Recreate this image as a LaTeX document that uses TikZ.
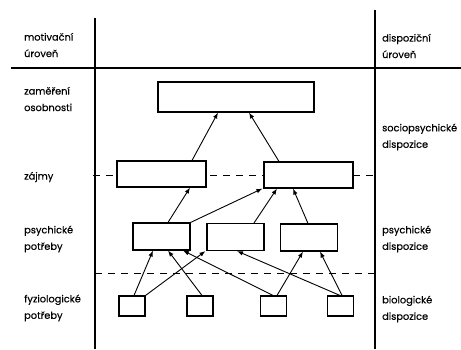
\documentclass[tikz,border=0pt]{standalone}
\usepackage{fontspec}
\setmainfont{Poppins}[FakeBold=0.35]
\usetikzlibrary{arrows.meta}
\tikzset{
  box/.style={draw, fill=white, line width=1.1pt, inner sep=0pt},
  lbl/.style={anchor=west, align=left, inner sep=0pt, font=\fontsize{9.8}{16.5}\selectfont},
  arr/.style={line width=0.9pt, -{Latex[length=6pt,width=4.5pt]}}
}
\begin{document}
\begin{tikzpicture}[x=1pt, y=-1pt]
            \useasboundingbox (0,0) rectangle (461,349);
            % frame
            \draw[line width=1.1pt] (95,18) -- (95,349);
            \draw[line width=1.1pt] (375,10) -- (375,349);
            \draw[line width=1.1pt] (11,68) -- (461,68);
            \draw[line width=1pt, dash pattern=on 7pt off 6pt] (93,175) -- (375,175);
            \draw[line width=1pt, dash pattern=on 7pt off 6pt] (95,273) -- (375,273);
            % labels
            \node[lbl] (mu) at (24,45) {motivační\\úroveň};
            \node[lbl] (zo) at (24,99) {zaměření\\osobnosti};
            \node[lbl] (za) at (24,177) {zájmy};
            \node[lbl] (pp) at (24,239) {psychické\\potřeby};
            \node[lbl] (fp) at (24,308) {fyziologické\\potřeby};
            \node[lbl] (du) at (382,46) {dispoziční\\úroveň};
            \node[lbl] (sd) at (382,137) {sociopsychické\\dispozice};
            \node[lbl] (pd) at (382,239) {psychické\\dispozice};
            \node[lbl] (bd) at (382,309) {biologické\\dispozice};
            % boxes
            \node[box, minimum width=156pt, minimum height=30pt] (T) at (236,97) {};
            \node[box, minimum width=89pt, minimum height=26pt] (Z1) at (161.5,174) {};
            \node[box, minimum width=89pt, minimum height=26pt] (Z2) at (308.5,175) {};
            \node[box, minimum width=57pt, minimum height=27pt] (P1) at (161.5,236.5) {};
            \node[box, minimum width=57pt, minimum height=27pt] (P2) at (235.5,237) {};
            \node[box, minimum width=57pt, minimum height=27pt] (P3) at (309,237.5) {};
            \node[box, minimum width=26pt, minimum height=20pt] (F1) at (132,306) {};
            \node[box, minimum width=26pt, minimum height=20pt] (F2) at (200,306) {};
            \node[box, minimum width=26pt, minimum height=20pt] (F3) at (273.5,306) {};
            \node[box, minimum width=26pt, minimum height=20pt] (F4) at (340.5,306) {};
            % arrows
            \draw[arr] ([xshift=30.5pt]Z1.north) -- ([xshift=-18pt]T.south);
            \draw[arr] ([xshift=-29.5pt]Z2.north) -- ([xshift=13pt]T.south);
            \draw[arr] ([xshift=6.5pt]P1.north) -- ([xshift=28.5pt]Z1.south);
            \draw[arr] (P1.north east) -- ([xshift=-1pt]Z2.south west);
            \draw[arr] ([xshift=18.5pt]P2.north) -- ([xshift=-31.5pt]Z2.south);
            \draw[arr] ([xshift=-1pt]P3.north) -- ([xshift=-15.5pt]Z2.south);
            \draw[arr] ([xshift=2pt]F1.north) -- ([xshift=-8.5pt]P1.south);
            \draw[arr] (F1.north east) -- ([xshift=-1pt]P2.south west);
            \draw[arr] ([xshift=2pt]F2.north) -- ([xshift=6.5pt]P1.south);
            \draw[arr] ([xshift=-0.5pt]F3.north) -- ([xshift=21.5pt]P1.south);
            \draw[arr] ([xshift=3.5pt]F3.north) -- ([xshift=-6pt]P3.south);
            \draw[arr] ([xshift=-0.5pt]F4.north) -- ([xshift=1.5pt]P2.south);
            \draw[arr] ([xshift=1.5pt]F4.north) -- ([xshift=11pt]P3.south);
\end{tikzpicture}
\end{document}
